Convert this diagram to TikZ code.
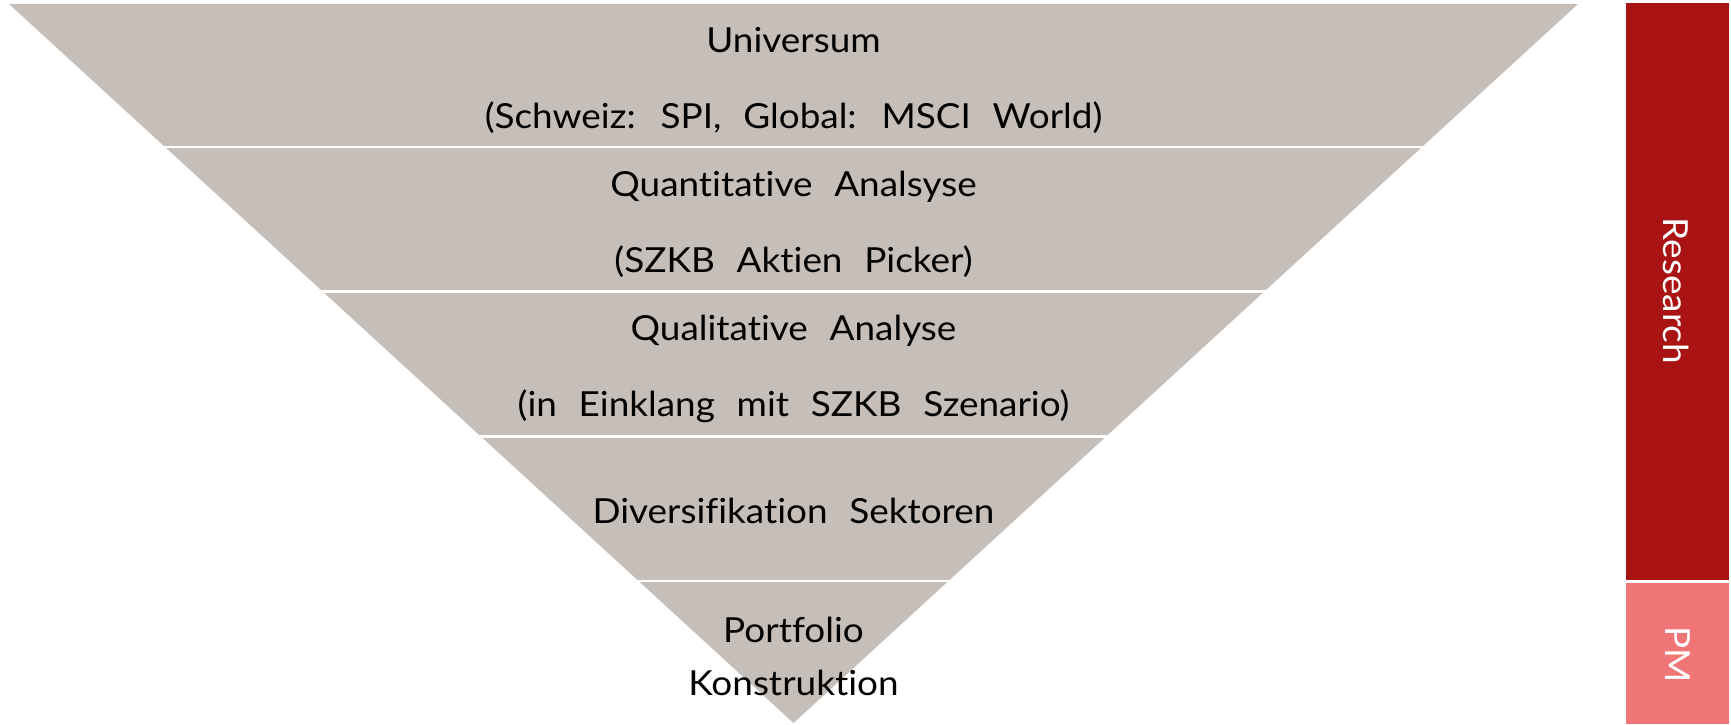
\documentclass[tikz,border=0pt]{standalone}
\usepackage{fontspec}
\setmainfont[Ligatures=NoCommon, FakeStretch=1.07, WordSpace=2.3]{Lato}
\usepackage{tikz}
\usetikzlibrary{positioning,calc}
\definecolor{funnelgray}{HTML}{C6BEB8}
\definecolor{researchred}{HTML}{AA1313}
\definecolor{pmpink}{HTML}{EF7576}
\tikzstyle{band}=[%
      fill=funnelgray
]
\tikzstyle{gap}=[%
      draw=white, line width=2.6pt
]
\tikzstyle{lbl}=[%
      anchor=base, inner sep=0pt, text=black,
      font=\fontsize{34.5}{40}\selectfont
]
\tikzstyle{side}=[%
      anchor=base, inner sep=0pt, rotate=-90, text=white,
      font=\fontsize{34.5}{40}\selectfont
]

\begin{document}
\begin{tikzpicture}[x=1pt, y=-1pt]
    \useasboundingbox (0,0) rectangle (1731,724);

    % funnel
    \coordinate (tl)  at (9,4);
    \coordinate (tr)  at (1578,4);
    \coordinate (tip) at (793.5,723);
    \fill[band] (tl) -- (tr) -- (tip) -- cycle;
    \foreach \y in {147,291.5,436.5,581}
      \draw[gap] (0,\y) -- (1600,\y);

    % side bars
    \fill[researchred] (1626,3) rectangle (1729,580);
    \fill[pmpink] (1626,583) rectangle (1729,724);

    \node[lbl] (univ)     at (793.5,52)  {Universum};
    \node[lbl] (univsub)  at (793.5,128) {(Schweiz: SPI, Global: MSCI World)};
    \node[lbl] (quant)    at (793.5,196) {Quantitative Analsyse};
    \node[lbl] (quantsub) at (793.5,272) {(SZKB Aktien Picker)};
    \node[lbl] (qual)     at (793.5,340) {Qualitative Analyse};
    \node[lbl] (qualsub)  at (793.5,416) {(in Einklang mit SZKB Szenario)};
    \node[lbl] (divers)   at (793.5,523) {Diversifikation Sektoren};
    \node[lbl] (portf)    at (793.5,642) {Portfolio};
    \node[lbl] (konstr)   at (793.5,695) {Konstruktion};

    \node[side] (research) at (1663,291) {Research};
    \node[side] (pm)       at (1665,655) {PM};
\end{tikzpicture}
\end{document}
